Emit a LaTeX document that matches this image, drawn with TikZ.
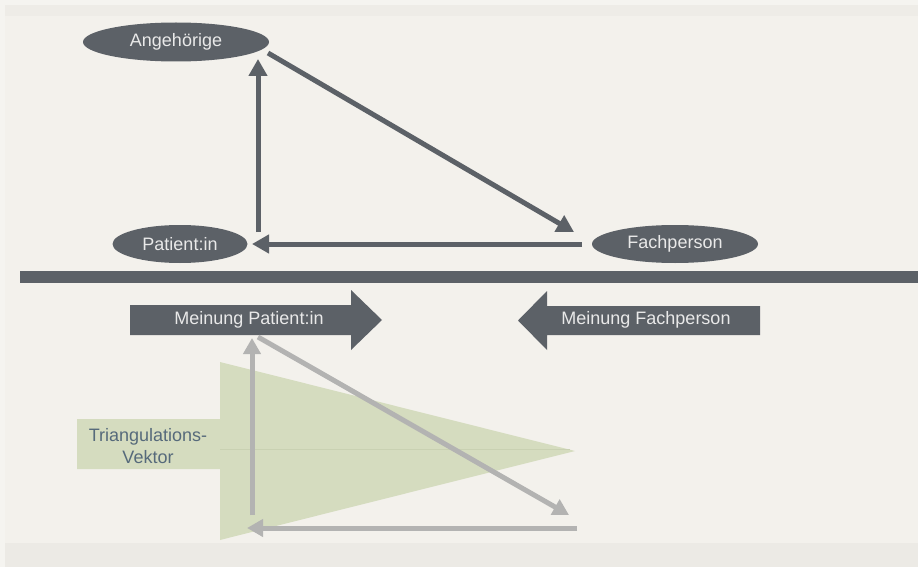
\documentclass[tikz,border=0pt]{standalone}
\usepackage{fontspec}
\setmainfont{Liberation Sans}
\usetikzlibrary{shapes.geometric,arrows.meta}
\definecolor{bgout}{HTML}{F5F4F0}
\definecolor{bgmain}{HTML}{F3F1EC}
\definecolor{bgtop}{HTML}{EEECE7}
\definecolor{bgbot}{HTML}{ECEAE5}
\definecolor{darkgr}{HTML}{5C6167}
\definecolor{lightgr}{HTML}{B3B3B2}
\definecolor{txtlight}{HTML}{E9E9E9}
\definecolor{greenfill}{HTML}{D5DCBF}
\definecolor{greenline}{HTML}{C9D1B2}
\definecolor{bluetxt}{HTML}{566A7B}
\tikzset{
  pers/.style={ellipse, fill=darkgr, inner sep=0pt, text=txtlight, font=\fontsize{18}{20}\selectfont},
  darkarrow/.style={draw=darkgr, line width=5pt, -{Triangle[length=17pt,width=18pt]}},
  lightarrow/.style={draw=lightgr, line width=5pt, -{Triangle[length=16pt,width=17pt]}},
  bigarrow/.style={fill=darkgr},
  bigtext/.style={text=txtlight, font=\fontsize{18}{20}\selectfont, inner sep=0pt},
  greentext/.style={text=bluetxt, font=\fontsize{18}{22}\selectfont, align=center, inner sep=0pt}
}
\begin{document}
\begin{tikzpicture}[x=1pt,y=-1pt]
\useasboundingbox (0,0) rectangle (918,567);
% background
\fill[bgout] (0,0) rectangle (918,567);
\fill[bgmain] (5,5) rectangle (918,543);
\fill[bgtop] (5,5) rectangle (918,16);
\fill[bgbot] (5,543) rectangle (918,567);

% nodes
\node[pers, minimum width=186pt, minimum height=39pt] (ang) at (176,42) {Angehörige};
\node[pers, minimum width=135pt, minimum height=38pt] (pat) at (180,244) {Patient:in};
\node[pers, minimum width=166pt, minimum height=38pt] (fach) at (675,244) {Fachperson};

% coordinates for the dark triangle
\coordinate (v1) at (258,232);
\coordinate (v2) at (258,59);
\coordinate (d1) at (268,53);
\coordinate (d2) at (574,232);
\coordinate (h1) at (582,244);
\coordinate (h2) at (252,244);

\draw[darkarrow] (v1) -- (v2);
\draw[darkarrow] (d1) -- (d2);
\draw[darkarrow] (h1) -- (h2);

% separator bar
\fill[darkgr] (20,271) rectangle (918,283);

% big arrows
\fill[bigarrow] (130,305) -- (351,305) -- (351,290) -- (382,320) -- (351,350) -- (351,335) -- (130,335) -- cycle;
\node[bigtext] (mp) at (249,320) {Meinung Patient:in};
\fill[bigarrow] (760,306) -- (547,306) -- (547,291) -- (518,320.5) -- (547,350) -- (547,335) -- (760,335) -- cycle;
\node[bigtext] (mf) at (646,320) {Meinung Fachperson};

% green triangulation vector
\fill[greenfill] (77,419) -- (220,419) -- (220,362) -- (575,451) -- (220,540) -- (220,469) -- (77,469) -- cycle;
\draw[greenline, line width=0.8pt] (220,449) -- (570,449);
\node[greentext] (tv) at (148,446) {Triangulations-\\Vektor};

% light triangle
\coordinate (lv1) at (252,515);
\coordinate (lv2) at (252,338);
\coordinate (ld1) at (258,337);
\coordinate (ld2) at (569,515);
\coordinate (lh1) at (577,528);
\coordinate (lh2) at (247,528);
\draw[lightarrow] (lv1) -- (lv2);
\draw[lightarrow] (ld1) -- (ld2);
\draw[lightarrow] (lh1) -- (lh2);
\end{tikzpicture}
\end{document}
